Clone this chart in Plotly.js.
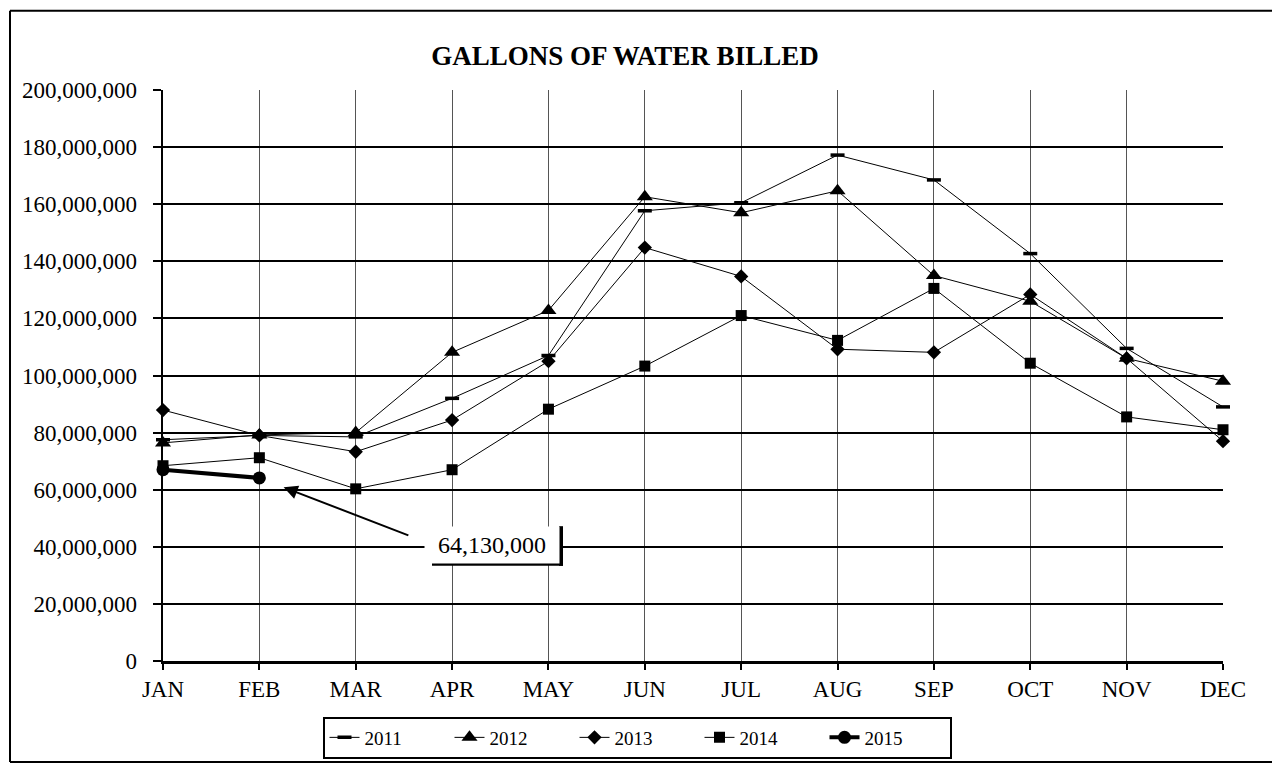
<!DOCTYPE html>
<html>
<head>
<meta charset="utf-8">
<script src="https://cdn.plot.ly/plotly-3.0.1.min.js"></script>
<style>
  html, body { margin: 0; padding: 0; background: #fff; }
  #chart { width: 1272px; height: 771px; }
</style>
</head>
<body>
<div id="chart"></div>
<script>
// Monthly gallons billed
const months = ['JAN', 'FEB', 'MAR', 'APR', 'MAY', 'JUN', 'JUL', 'AUG', 'SEP', 'OCT', 'NOV', 'DEC'];
const y2011 = [77500000, 79000000, 78500000, 92000000, 107000000, 157700000, 160500000, 177200000, 168500000, 142700000, 109500000, 89000000];
const y2012 = [76400000, 79200000, 80000000, 108100000, 122800000, 162600000, 157000000, 164700000, 135000000, 126000000, 106000000, 98000000];
const y2013 = [87900000, 79000000, 73300000, 84400000, 105000000, 144800000, 134700000, 109200000, 108100000, 128400000, 106000000, 77000000];
const y2014 = [68400000, 71200000, 60300000, 67000000, 88200000, 103300000, 121000000, 112300000, 130500000, 104300000, 85500000, 81000000];
const y2015 = [67000000, 64130000];
const calloutText = '64,130,000';

// plot area in pixels, used to place frame and callout shadow
const L = 163, R = 1223, T = 90, B = 666;
const px = x => (x - L) / (R - L);
const py = y => (B - y) / (B - T);

const serif = 'Liberation Serif, Times New Roman, serif';

function series(name, y, symbol, size, lineWidth) {
    const marker = { symbol: symbol, size: size, color: '#000' };
    if (symbol === 'line-ew') marker.line = { color: '#000', width: 3.5 };
    return {
        x: months.slice(0, y.length),
        y: y,
        name: name,
        type: 'scatter',
        mode: 'lines+markers',
        cliponaxis: false,
        line: { color: '#000', width: lineWidth },
        marker: marker
    };
}

const traces = [
    series('2011', y2011, 'line-ew', 10, 1),
    series('2012', y2012, 'triangle-up', 14, 1),
    series('2013', y2013, 'diamond', 11, 1),
    series('2014', y2014, 'square', 11, 1),
    series('2015', y2015, 'circle', 13, 4)
];

const frame = { color: '#000', width: 2 };

const layout = {
    width: 1272,
    height: 771,
    paper_bgcolor: '#fff',
    plot_bgcolor: '#fff',
    font: { family: serif, color: '#000', size: 21 },
    margin: { l: L, r: 1272 - R, t: T, b: 771 - B },
    title: {
        text: 'GALLONS OF WATER BILLED',
        font: { family: serif, size: 27, weight: 'bold', color: '#000' },
        x: 625 / 1272, xref: 'container', xanchor: 'center',
        y: 1 - 56 / 771, yref: 'container', yanchor: 'middle'
    },
    xaxis: {
        type: 'category',
        range: [0, 11],
        showgrid: true,
        gridcolor: '#555',
        gridwidth: 1,
        showline: true,
        linecolor: '#000',
        linewidth: 2.5,
        ticks: 'outside',
        ticklen: 6,
        tickwidth: 2,
        tickcolor: '#000',
        tickfont: { family: serif, size: 23 },
        zeroline: false
    },
    yaxis: {
        range: [0, 200000000],
        dtick: 20000000,
        tickformat: ',d',
        showgrid: true,
        gridcolor: '#000',
        gridwidth: 2,
        showline: true,
        linecolor: '#000',
        linewidth: 2.5,
        ticks: 'outside',
        ticklen: 8,
        tickwidth: 2,
        tickcolor: '#000',
        ticklabelstandoff: 11,
        tickfont: { family: serif, size: 23 },
        zeroline: false
    },
    showlegend: true,
    legend: {
        orientation: 'h',
        x: px(637), xanchor: 'center',
        y: py(722), yanchor: 'top',
        bgcolor: '#fff',
        bordercolor: '#000',
        borderwidth: 2,
        entrywidth: 80,
        font: { family: serif, size: 19 }
    },
    annotations: [
        // arrow only
        {
            xref: 'x', yref: 'y', x: 1, y: y2015[1],
            text: ' ', showarrow: true,
            axref: 'pixel', ayref: 'pixel', ax: 153, ay: 59,
            arrowhead: 2, arrowsize: 1.4, arrowwidth: 2, arrowcolor: '#000',
            standoff: 26
        },
        // callout box
        {
            xref: 'x', yref: 'y', x: 1, y: y2015[1],
            text: calloutText, showarrow: false,
            xshift: 233, yshift: -67,
            width: 124, align: 'center',
            bgcolor: '#fff', borderpad: 5,
            font: { family: serif, size: 24, color: '#000' }
        }
    ],
    shapes: [
        // outer frame: top, left, bottom (right edge runs off the page)
        { type: 'line', xref: 'paper', yref: 'paper',
          x0: px(10), x1: px(1272), y0: py(10), y1: py(10), line: frame, layer: 'below' },
        { type: 'line', xref: 'paper', yref: 'paper',
          x0: px(10), x1: px(10), y0: py(10), y1: py(768), line: frame, layer: 'below' },
        { type: 'line', xref: 'paper', yref: 'paper',
          x0: px(10), x1: px(1272), y0: py(768), y1: py(768), line: frame, layer: 'below' },
        // callout shadow
        { type: 'line', xref: 'paper', yref: 'paper',
          x0: px(561), x1: px(561), y0: py(530), y1: py(570),
          line: { color: '#000', width: 4 } },
        { type: 'line', xref: 'paper', yref: 'paper',
          x0: px(432), x1: px(563), y0: py(568), y1: py(568),
          line: { color: '#000', width: 4 } }
    ]
};

Plotly.newPlot('chart', traces, layout, { displayModeBar: false, staticPlot: true });
</script>
</body>
</html>
